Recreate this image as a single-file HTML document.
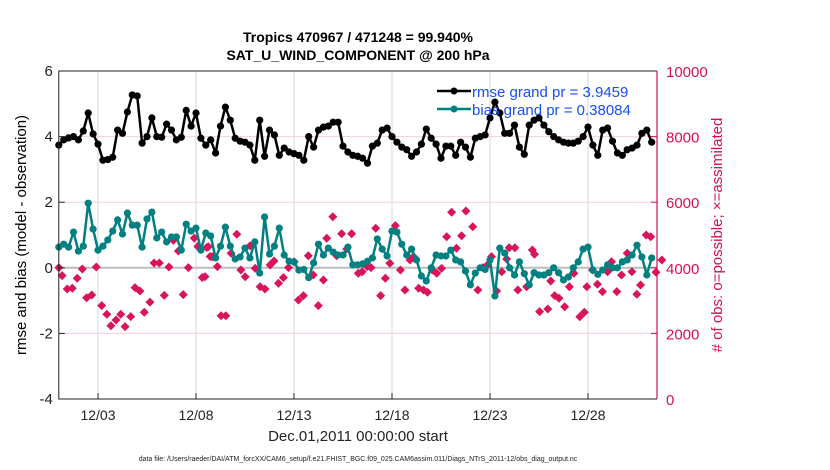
<!DOCTYPE html>
<html><head><meta charset="utf-8">
<style>
body{margin:0;background:#fff;}
svg{display:block;font-family:"Liberation Sans",Arial,sans-serif;}
</style></head>
<body>
<svg id="chart" width="830" height="470" viewBox="0 0 830 470">
<g id="grid"></g>
<g id="marks"></g>
<g id="axes"></g>
<text x="358" y="42" text-anchor="middle" font-size="14" font-weight="bold">Tropics 470967 / 471248 = 99.940%</text>
<text x="358" y="60" text-anchor="middle" font-size="14" font-weight="bold">SAT_U_WIND_COMPONENT @ 200 hPa</text>
<text transform="translate(26,235) rotate(-90)" text-anchor="middle" font-size="15">rmse and bias (model - observation)</text>
<text transform="translate(722,235) rotate(-90)" text-anchor="middle" font-size="15" fill="#d6104f"># of obs: o=possible; ×=assimilated</text>
<text x="358" y="441" text-anchor="middle" font-size="15" fill="#222">Dec.01,2011 00:00:00 start</text>
<text x="358" y="461" text-anchor="middle" font-size="7" fill="#222">data file: /Users/raeder/DAI/ATM_forcXX/CAM6_setup/f.e21.FHIST_BGC.f09_025.CAM6assim.011/Diags_NTrS_2011-12/obs_diag_output.nc</text>
<g>
<line x1="437" y1="91" x2="471" y2="91" stroke="#000" stroke-width="2.5"/>
<circle cx="454" cy="91" r="3.5" fill="#000"/>
<text x="472" y="97" font-size="15" fill="#1650f0">rmse grand pr = 3.9459</text>
<line x1="437" y1="109" x2="471" y2="109" stroke="#008080" stroke-width="2.5"/>
<circle cx="454" cy="109" r="3.5" fill="#008080"/>
<text x="472" y="115" font-size="15" fill="#1650f0">bias grand pr = 0.38084</text>
</g>
</svg>
<script>
const rmse=[3.74,3.9,3.96,4.0,3.9,4.17,4.72,4.08,3.77,3.28,3.3,3.37,4.2,4.1,4.75,5.27,5.24,3.8,4.0,4.57,4.0,3.98,4.38,4.2,3.9,3.98,4.8,4.32,4.72,3.95,3.74,3.9,3.5,4.32,4.9,4.5,3.95,3.86,3.83,3.74,3.28,4.5,3.4,4.2,4.05,3.43,3.65,3.53,3.48,3.43,3.28,4.0,3.68,4.2,4.29,4.32,4.44,4.44,3.71,3.53,3.43,3.4,3.34,3.19,3.71,3.8,4.2,4.26,4.0,3.83,3.68,3.6,3.4,3.53,3.77,4.23,3.95,3.77,3.34,3.71,3.71,3.43,3.83,3.68,3.37,3.95,4.0,4.05,4.57,5.05,4.72,4.1,4.1,4.35,3.68,3.46,4.35,4.5,4.57,4.35,4.15,4.0,3.9,3.83,3.8,3.8,3.86,4.0,4.29,3.74,3.43,4.2,4.26,3.86,3.5,3.43,3.6,3.65,3.74,4.1,4.2,3.83];
const bias=[0.63,0.72,0.63,1.09,0.51,0.66,1.97,1.18,0.54,0.66,0.85,1.12,1.46,1.03,1.67,1.3,1.3,0.63,1.49,1.7,0.91,1.09,0.79,0.94,0.94,0.54,1.33,1.12,1.21,0.54,1.06,0.97,0.3,0.66,1.24,0.66,0.27,0.33,0.6,0.3,0.79,-0.16,1.55,0.42,0.66,1.21,0.39,0.2,0.18,-0.07,-0.05,-0.3,0.15,0.72,0.39,0.6,0.48,0.39,0.39,0.63,0.09,0.09,0.12,0.2,0.3,0.88,0.57,0.36,1.12,1.09,0.72,0.39,0.57,0.24,-0.25,-0.4,0,0.39,0.36,0.36,0.54,0.24,0.18,-0.1,-0.52,-0.16,0,-0.05,0.24,-0.86,0.6,0.45,0,-0.22,0.18,-0.18,-0.52,-0.15,-0.22,-0.22,-0.15,0,-0.15,-0.37,-0.28,0,0.18,0.57,0.63,-0.07,-0.2,-0.07,0.09,0,0,0.18,0.24,0.39,0.69,0.33,-0.22,0.3];
const obsDays=[0,0.17,0.43,0.69,0.94,1.2,1.42,1.68,1.91,2.19,2.45,2.66,2.92,3.16,3.38,3.67,3.89,4.14,4.36,4.65,4.86,5.13,5.38,5.62,5.84,6.1,6.35,6.61,6.91,7.09,7.32,7.55,7.72,
7.46,7.63,7.83,8.09,8.28,8.52,8.79,9.08,9.29,9.51,9.76,10.02,10.27,10.52,10.78,10.98,11.21,11.46,11.72,12.01,12.23,12.48,12.73,12.98,13.24,13.5,13.67,13.98,14.18,14.43,14.69,14.94,
15.28,15.48,15.74,15.93,16.17,16.42,16.66,16.89,17.17,17.43,17.66,17.92,18.1,18.36,18.61,18.81,19.06,19.28,19.53,19.79,20.04,20.29,20.55,20.77,21.12,21.38,21.65,21.87,22.08,22.34,22.6,22.85,
22.98,23.27,23.42,23.87,24.16,24.27,24.53,24.95,25.1,25.3,25.52,25.81,26.05,26.28,26.58,26.81,26.94,27.23,27.48,27.74,28.0,28.2,28.47,28.71,29.0,29.24,29.49,29.68,29.97,30.2,30.47,30.77];
const obsCount=[4005,3761,3354,3375,3680,3963,3088,3171,4024,2845,2582,2235,2409,2582,2206,2510,3394,3293,2644,2955,4147,4147,3161,4024,4838,4512,3181,4005,4903,4648,3704,4618,4343,
3730,4643,4338,4034,2540,2540,4442,5022,3933,3729,4674,3984,3424,3354,4085,4207,3528,3699,4004,4186,3018,3150,4369,3781,2845,3628,4900,5558,4369,5040,4573,5040,3832,
3881,4034,4004,5204,3150,3680,4137,5284,3933,3323,4238,4339,3375,3323,3253,3933,3832,3984,4948,5692,4595,4979,5732,5253,3323,4004,4086,4339,3293,3881,4268,4613,
4613,3323,3424,4543,4412,2662,2744,3598,3150,3070,2814,3424,3832,2509,2643,3424,3933,3497,3272,3881,4186,3272,3781,4442,3881,3192,3476,5000,4948,3863,4238,0];
const xTickDays=[2,7,12,17,22,27];
const xTickLabels=["12/03","12/08","12/13","12/18","12/23","12/28"];
const yTicks=[-4,-2,0,2,4,6];
const y2Ticks=[0,2000,4000,6000,8000,10000];

const NS="http://www.w3.org/2000/svg";
const L=58.8,R=657,T=71,B=399;
const xS=d=>L+d*19.6;
const yS=v=>B-(v+4)/10*(B-T);
const y2S=v=>B-v/10000*(B-T);
function mk(tag,attrs,parent){const e=document.createElementNS(NS,tag);for(const k in attrs)e.setAttribute(k,attrs[k]);parent.appendChild(e);return e;}
const grid=document.getElementById('grid'),marks=document.getElementById('marks'),axes=document.getElementById('axes');

xTickDays.forEach((d,i)=>{
  const gl=mk('line',{x1:xS(d),x2:xS(d),y1:T,y2:B,stroke:'#d8d8d8','stroke-width':1},grid);
  
  
  const tk=mk('line',{x1:xS(d),x2:xS(d),y1:B,y2:B-6,stroke:'#222'},axes);
  
  
  const t=mk('text',{x:xS(d),y:B+21,'text-anchor':'middle','font-size':14,fill:'#222'},axes);
  t.textContent=xTickLabels[i];
  
  
});
yTicks.forEach(v=>{
  if(v!==0&&v!==-4&&v!==6){
    const gl=mk('line',{x1:L,x2:R,y1:yS(v),y2:yS(v),stroke:'#f6cfdc','stroke-width':1},grid);
    
    
  }
  const tk=mk('line',{x1:L,x2:L+6,y1:yS(v),y2:yS(v),stroke:'#222'},axes);
  
  
  const t=mk('text',{x:L-6,y:yS(v)+5,'text-anchor':'end','font-size':15,fill:'#222'},axes);
  t.textContent=String(v);
  
  
});
y2Ticks.forEach(v=>{
  const tk=mk('line',{x1:R,x2:R-6,y1:y2S(v),y2:y2S(v),stroke:'#d6104f'},axes);
  
  
  const t=mk('text',{x:R+9,y:y2S(v)+6,'font-size':15,fill:'#d6104f'},axes);
  t.textContent=String(v);
  
  
});
const zl=mk('line',{x1:L,x2:R,y1:yS(0),y2:yS(0),stroke:'#bdbdbd','stroke-width':2},grid);



const fr=mk('path',{d:`M${R},${T}H${L}V${B}H${R}`,fill:'none',stroke:'#222','stroke-width':1},axes);


const ra=mk('line',{x1:R,x2:R,y1:T,y2:B,stroke:'#d6104f','stroke-width':1.2},axes);



obsCount.forEach((v,i)=>{
  const x=xS(obsDays[i]),y=y2S(v);
  const p=mk('path',{d:`M${x},${y-4.5}L${x+4.5},${y}L${x},${y+4.5}L${x-4.5},${y}Z`,fill:'#d9135c'},marks);
  
  
});
function series(arr,color,name){
  const pts=arr.map((v,i)=>`${xS(i*0.25)},${yS(v)}`).join(' ');
  const pl=mk('polyline',{points:pts,fill:'none',stroke:color,'stroke-width':2.5,'stroke-linejoin':'round'},marks);
  
  
  arr.forEach((v,i)=>{
    const c=mk('circle',{cx:xS(i*0.25),cy:yS(v),r:3.6,fill:color},marks);
    
    
  });
}
series(bias,'#008080','bias');
series(rmse,'#000','rmse');
</script>
</body></html>
